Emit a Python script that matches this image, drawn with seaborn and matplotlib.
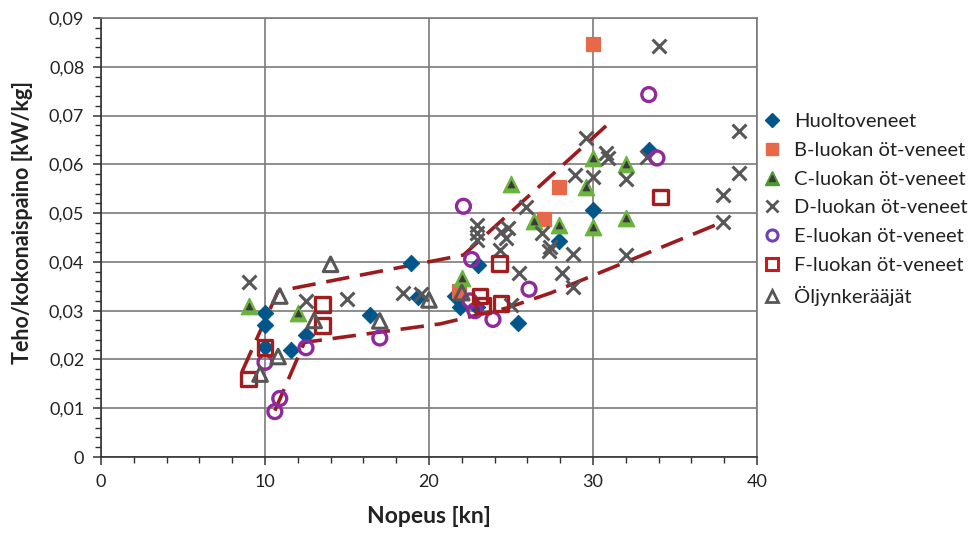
import matplotlib
matplotlib.use("Agg")
import matplotlib.pyplot as plt
import seaborn as sns
import numpy as np
from matplotlib.lines import Line2D
from matplotlib.legend_handler import HandlerTuple
from matplotlib.ticker import MultipleLocator, FuncFormatter

# ---------------- data ----------------
labels = ["Huoltoveneet", "B-luokan öt-veneet", "C-luokan öt-veneet",
          "D-luokan öt-veneet", "E-luokan öt-veneet", "F-luokan öt-veneet",
          "Öljynkerääjät"]

h_x = [10, 10, 10, 11.6, 12.5, 16.4, 18.9, 19.3, 21.6, 21.9, 22.9, 23, 25.4, 27.9, 30, 33.4]
h_y = [0.0295, 0.0271, 0.0225, 0.022, 0.025, 0.0292, 0.0397, 0.0327, 0.033, 0.0308,
       0.0307, 0.0393, 0.0274, 0.0443, 0.0507, 0.063]

b_x = [21.8, 27, 27.9, 30]
b_y = [0.034, 0.0488, 0.0553, 0.0847]

c_x = [9, 12, 22, 25, 26.4, 27.9, 29.6, 30, 30, 32, 32]
c_y = [0.031, 0.0295, 0.0366, 0.0560, 0.0484, 0.0475, 0.0553, 0.0614, 0.0472, 0.060, 0.049]

d_x = [9, 12.5, 15, 18.4, 19.5, 22.9, 22.9, 22.9, 24.4, 24.8, 24.7, 24.3, 25, 25.5, 25.9,
       26.9, 27.3, 27.4, 28.1, 28.8, 28.8, 28.9, 29.6, 30, 30.8, 30.9, 32, 32, 33.3, 34,
       37.9, 37.9, 38.9, 38.9]
d_y = [0.0358, 0.032, 0.0323, 0.0336, 0.0334, 0.0476, 0.0459, 0.0445, 0.0462, 0.0470,
       0.0450, 0.0424, 0.0312, 0.0377, 0.0512, 0.0459, 0.0422, 0.0430, 0.0377, 0.0417,
       0.0349, 0.0578, 0.0653, 0.0575, 0.0623, 0.0614, 0.057, 0.0415, 0.0616, 0.0842,
       0.0537, 0.0481, 0.0668, 0.0583]

e_x = [10, 10.6, 10.9, 12.5, 17, 22.1, 22.5, 22.6, 22.8, 23.9, 26.1, 33.4, 33.9]
e_y = [0.0194, 0.0093, 0.012, 0.0224, 0.0244, 0.0514, 0.032, 0.0405, 0.030, 0.0282,
       0.0344, 0.0743, 0.0613]

f_x = [9, 10, 13.5, 13.5, 23.1, 23.3, 24.3, 24.4, 34.1]
f_y = [0.016, 0.0225, 0.0313, 0.027, 0.033, 0.0311, 0.0397, 0.0315, 0.0533]

o_x = [9.7, 10.8, 10.9, 13, 14, 17, 20, 22]
o_y = [0.017, 0.0206, 0.033, 0.028, 0.0395, 0.0279, 0.0322, 0.0337]

upper_x = [8.6, 10.8, 22.1, 31.0]
upper_y = [0.0175, 0.034, 0.0414, 0.0685]
lower_x = [10.6, 12.4, 20.7, 24.7, 27.4, 38]
lower_y = [0.0095, 0.0235, 0.0273, 0.0305, 0.0336, 0.0483]

x_ticks = [0, 10, 20, 30, 40]
y_ticks = [0, 0.01, 0.02, 0.03, 0.04, 0.05, 0.06, 0.07, 0.08, 0.09]

# ---------------- style ----------------
sns.set_style("white")
plt.rcParams["font.family"] = ["Lato", "DejaVu Sans"]

C_H = "#00568a"
C_B = "#e8684a"
C_C = "#6ab43e"
C_CI = "#3a3a3a"
C_D = "#575757"
C_E = "#902a9c"
C_F = "#a31d1f"
C_O = "#575757"
C_LINE = "#9c1b1f"
GRID = "#7a7a7a"

fig = plt.figure(figsize=(9.70, 5.34), dpi=100)
ax = fig.add_axes([101 / 970, 1 - 457 / 534, (757 - 101) / 970, (457 - 18) / 534])

# dashed envelope lines
sns.lineplot(x=upper_x, y=upper_y, ax=ax, color=C_LINE, lw=2.6, dashes=False,
             sort=False, estimator=None, zorder=2).lines[-1].set_dashes((6.5, 3))
sns.lineplot(x=lower_x, y=lower_y, ax=ax, color=C_LINE, lw=2.6, dashes=False,
             sort=False, estimator=None, zorder=2).lines[-1].set_dashes((6.5, 3))

sns.scatterplot(x=h_x, y=h_y, ax=ax, marker="D", s=70, color=C_H, edgecolor=C_H, zorder=3)
sns.scatterplot(x=b_x, y=b_y, ax=ax, marker="s", s=110, color=C_B, edgecolor=C_B, zorder=3)
sns.scatterplot(x=c_x, y=c_y, ax=ax, marker="^", s=140, color=C_C, edgecolor=C_C, zorder=3)
sns.scatterplot(x=c_x, y=c_y, ax=ax, marker="^", s=26, color=C_CI, edgecolor=C_CI, zorder=3)
sns.scatterplot(x=d_x, y=d_y, ax=ax, marker="x", s=100, color=C_D, linewidth=2.2, zorder=3)
sns.scatterplot(x=e_x, y=e_y, ax=ax, marker="o", s=100, color=C_E, facecolors="none",
                edgecolor=C_E, linewidth=2.4, zorder=3)
sns.scatterplot(x=f_x, y=f_y, ax=ax, marker="s", s=110, color=C_F, facecolors="none",
                edgecolor=C_F, linewidth=2.4, zorder=3)
sns.scatterplot(x=o_x, y=o_y, ax=ax, marker="^", s=110, color=C_O, facecolors="none",
                edgecolor=C_O, linewidth=2.2, zorder=3)

# axes
ax.set_xlim(0, 40)
ax.set_ylim(0, 0.09)
ax.set_xticks(x_ticks)
ax.set_yticks(y_ticks)
ax.xaxis.set_minor_locator(MultipleLocator(2))
ax.yaxis.set_minor_locator(MultipleLocator(0.002))
ax.yaxis.set_major_formatter(FuncFormatter(
    lambda v, p: "0" if abs(v) < 1e-9 else f"{v:.2f}".replace(".", ",")))
ax.grid(True, which="major", color=GRID, lw=1.2)
ax.set_axisbelow(True)
for side in ["top", "right"]:
    ax.spines[side].set_color(GRID)
    ax.spines[side].set_linewidth(1.2)
for side in ["left", "bottom"]:
    ax.spines[side].set_color("#333333")
    ax.spines[side].set_linewidth(1.2)
ax.tick_params(which="major", direction="out", length=6, width=1.1, color="#333333",
               labelsize=13, labelcolor="#222222", pad=6, left=True, bottom=True)
ax.tick_params(which="minor", direction="out", length=4, width=1.0, color="#333333",
               left=True, bottom=True)
ax.set_xlabel("Nopeus [kn]", fontsize=16.5, fontweight="bold", color="#222222", labelpad=12)
ax.set_ylabel("Teho/kokonaispaino [kW/kg]", fontsize=15.5, fontweight="bold",
              color="#222222", labelpad=8)
ax.yaxis.set_label_coords(-0.104, 0.535)

# legend
hs = [
    Line2D([], [], ls="", marker="D", ms=7, color=C_H),
    Line2D([], [], ls="", marker="s", ms=9, color=C_B),
    (Line2D([], [], ls="", marker="^", ms=10, color="#4a9a2e"),
     Line2D([], [], ls="", marker="^", ms=4, color=C_CI)),
    Line2D([], [], ls="", marker="x", ms=8, mew=2, color=C_D),
    Line2D([], [], ls="", marker="o", ms=8, mfc="none", mew=2.2, color="#6e42b0"),
    Line2D([], [], ls="", marker="s", ms=8, mfc="none", mew=2.2, color="#d0161d"),
    Line2D([], [], ls="", marker="^", ms=8, mfc="none", mew=2, color=C_O),
]
fig.legend(hs, labels, loc="upper left", bbox_to_anchor=(762 / 970, 1 - 113 / 534),
           frameon=False, fontsize=14.5, labelspacing=0.58, handlelength=1.0,
           handletextpad=0.6, borderpad=0, borderaxespad=0,
           handler_map={tuple: HandlerTuple(ndivide=1)}, labelcolor="#222222")

fig.savefig("out.png", dpi=100)
